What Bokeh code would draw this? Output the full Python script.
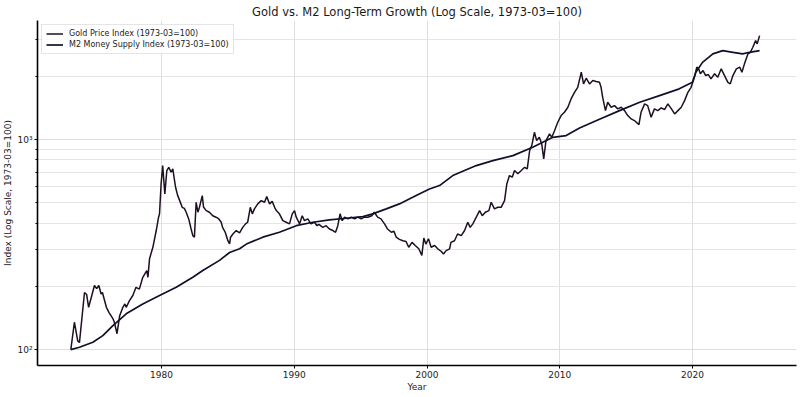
from bokeh.plotting import figure
from bokeh.models import Range1d, FixedTicker, Legend, LegendItem, ColumnDataSource
from bokeh.embed import file_html
from bokeh.resources import INLINE

# ---- data ----
gold_years = [1973.17, 1973.44, 1973.69, 1973.82, 1974.20, 1974.36, 1974.51, 1974.71, 1974.95, 1975.12,
              1975.28, 1975.45, 1975.55, 1975.85, 1976.05, 1976.35, 1976.45, 1976.65, 1976.85, 1977.09,
              1977.24, 1977.34, 1977.59, 1977.84, 1978.08, 1978.33, 1978.59, 1978.89, 1978.98, 1979.10,
              1979.35, 1979.60, 1979.78, 1979.85, 1979.97, 1980.09, 1980.25, 1980.40, 1980.55, 1980.72,
              1980.85, 1981.06, 1981.22, 1981.32, 1981.56, 1981.72, 1981.86, 1982.05, 1982.23, 1982.36,
              1982.48, 1982.61, 1982.74, 1982.86, 1983.07, 1983.17, 1983.37, 1983.61, 1983.86, 1984.10,
              1984.30, 1984.50, 1984.60, 1984.80, 1985.00, 1985.13, 1985.20, 1985.38, 1985.63, 1985.88,
              1986.12, 1986.33, 1986.49, 1986.69, 1986.84, 1987.00, 1987.25, 1987.51, 1987.76, 1987.93,
              1988.14, 1988.34, 1988.52, 1988.65, 1988.88, 1989.14, 1989.39, 1989.64, 1989.85, 1990.02,
              1990.15, 1990.40, 1990.60, 1990.77, 1991.02, 1991.26, 1991.53, 1991.71, 1991.86, 1992.15,
              1992.40, 1992.65, 1992.91, 1993.11, 1993.28, 1993.45, 1993.61, 1993.79, 1994.04, 1994.29,
              1994.54, 1994.79, 1995.04, 1995.29, 1995.54, 1995.84, 1996.03, 1996.28, 1996.53, 1996.80,
              1997.03, 1997.31, 1997.51, 1997.68, 1997.92, 1998.18, 1998.42, 1998.62, 1998.87, 1999.11,
              1999.38, 1999.61, 1999.76, 1999.91, 2000.11, 2000.31, 2000.57, 2000.81, 2001.06, 2001.24,
              2001.44, 2001.70, 2001.80, 2002.07, 2002.30, 2002.58, 2002.83, 2003.07, 2003.25, 2003.45,
              2003.71, 2003.96, 2004.16, 2004.39, 2004.66, 2004.83, 2005.08, 2005.33, 2005.58, 2005.84,
              2006.01, 2006.21, 2006.42, 2006.59, 2006.84, 2007.10, 2007.35, 2007.55, 2007.73, 2007.89,
              2008.09, 2008.26, 2008.46, 2008.64, 2008.79, 2008.96, 2009.23, 2009.40, 2009.61, 2009.85,
              2010.10, 2010.35, 2010.61, 2010.85, 2011.11, 2011.35, 2011.62, 2011.79, 2011.99, 2012.24,
              2012.49, 2012.74, 2012.99, 2013.11, 2013.23, 2013.44, 2013.61, 2013.87, 2014.12, 2014.37,
              2014.63, 2014.88, 2015.12, 2015.38, 2015.62, 2015.96, 2016.12, 2016.39, 2016.62, 2016.88,
              2017.13, 2017.38, 2017.64, 2017.89, 2018.14, 2018.41, 2018.65, 2018.90, 2019.15, 2019.40,
              2019.65, 2019.89, 2020.14, 2020.32, 2020.46, 2020.59, 2020.79, 2020.99, 2021.19, 2021.39,
              2021.66, 2021.90, 2022.16, 2022.41, 2022.66, 2022.84, 2023.04, 2023.30, 2023.55, 2023.72,
              2023.91, 2024.17, 2024.36, 2024.54, 2024.75, 2024.87, 2025.05]
gold_index = [100, 135, 110, 108, 187, 183, 159, 177, 202, 195,
              202, 184, 187, 159, 150, 140, 135, 119, 145, 159,
              165, 159, 171, 181, 198, 194, 221, 238, 221, 271,
              307, 368, 427, 443, 615, 752, 551, 711, 738, 699,
              725, 593, 541, 522, 476, 470, 451, 419, 375, 349,
              343, 503, 451, 476, 541, 476, 459, 451, 434, 427,
              420, 404, 382, 362, 330, 319, 343, 355, 369, 360,
              382, 397, 404, 476, 443, 468, 494, 512, 503, 535,
              494, 508, 476, 459, 443, 411, 404, 397, 443, 459,
              427, 397, 434, 411, 419, 397, 404, 389, 395, 382,
              389, 375, 369, 362, 389, 443, 411, 427, 419, 427,
              419, 427, 419, 427, 427, 434, 451, 427, 419, 397,
              375, 362, 366, 343, 335, 330, 327, 307, 324, 313,
              302, 281, 340, 318, 337, 307, 313, 302, 294, 285,
              296, 302, 324, 330, 355, 349, 369, 404, 382, 397,
              427, 459, 434, 451, 459, 503, 468, 476, 476, 512,
              615, 674, 662, 712, 687, 712, 738, 725, 887, 936,
              1083, 989, 1025, 954, 809, 989, 1064, 1025, 1104, 1209,
              1301, 1349, 1425, 1562, 1679, 1774, 2092, 1842, 1960, 1840,
              1911, 1890, 1874, 1774, 1590, 1374, 1505, 1425, 1451, 1400,
              1425, 1374, 1301, 1254, 1232, 1179, 1349, 1479, 1451, 1277,
              1400, 1374, 1415, 1390, 1479, 1400, 1325, 1374, 1425, 1533,
              1679, 1774, 1979, 2212, 2172, 2057, 2131, 2018, 2040, 1945,
              2057, 1979, 2172, 2018, 1874, 1842, 2018, 2172, 2212, 2092,
              2294, 2559, 2604, 2751, 2960, 2857, 3126]

m2_years = [1973.17, 1973.82, 1974.83, 1975.58, 1976.34, 1977.34, 1978.59, 1979.85, 1981.11, 1982.36,
            1983.11, 1984.37, 1985.13, 1985.88, 1986.39, 1987.63, 1988.88, 1990.15, 1991.40, 1992.65,
            1993.91, 1995.17, 1995.91, 1996.93, 1997.92, 1998.92, 1999.41, 2000.19, 2000.94, 2001.94,
            2003.71, 2004.96, 2006.47, 2007.96, 2009.48, 2010.48, 2011.49, 2012.99, 2014.50, 2016.02,
            2017.51, 2019.00, 2019.99, 2020.25, 2020.75, 2021.53, 2022.28, 2023.04, 2023.78, 2024.28,
            2025.05]
m2_index = [100, 102.6, 108.4, 116.6, 130, 148, 165, 181, 198, 221,
            238, 266, 290, 302, 318, 343, 362, 389, 404, 415,
            422, 430, 443, 468, 494, 531, 551, 582, 604, 674,
            752, 794, 839, 919, 1025, 1045, 1135, 1250, 1374, 1505,
            1620, 1744, 1874, 2092, 2332, 2559, 2651, 2604, 2559, 2604,
            2651]

x_ticks = [1980, 1990, 2000, 2010, 2020]
y_major = [100, 1000]
y_minor = [200, 300, 400, 500, 600, 700, 800, 900, 2000, 3000]
y_labels = {100: "10²", 1000: "10³"}

title_text = "Gold vs. M2 Long-Term Growth (Log Scale, 1973-03=100)"
gold_label = "Gold Price Index (1973-03=100)"
m2_label = "M2 Money Supply Index (1973-03=100)"

FONT = "DejaVu Sans"

p = figure(frame_width=759, frame_height=345, y_axis_type="log",
           x_range=Range1d(1970.66, 2027.83), y_range=Range1d(84, 3690),
           output_backend="svg", toolbar_location=None,
           min_border_left=30, min_border_right=3, min_border_top=0, min_border_bottom=0,
           title=title_text)
p.outline_line_color = None
p.background_fill_color = "white"

p.title.align = "center"
p.title.text_font = FONT
p.title.text_font_size = "11.5px"
p.title.text_font_style = "normal"
p.title.text_color = "#1a1a1a"
p.title.standoff = 4

# axes
p.xaxis.ticker = FixedTicker(ticks=x_ticks)
p.yaxis.ticker = FixedTicker(ticks=y_major, minor_ticks=y_minor)
p.yaxis.major_label_overrides = y_labels
for ax in (p.xaxis[0], p.yaxis[0]):
    ax.axis_line_color = "black"
    ax.axis_line_width = 1.6
    ax.major_tick_line_color = "black"
    ax.minor_tick_line_color = "black"
    ax.major_tick_out = 3
    ax.major_tick_in = 0
    ax.minor_tick_out = 2
    ax.minor_tick_in = 0
    ax.major_label_text_font = FONT
    ax.major_label_text_font_size = "9px"
    ax.major_label_text_color = "#222222"
    ax.axis_label_text_font = FONT
    ax.axis_label_text_font_size = "9px"
    ax.axis_label_text_font_style = "normal"
    ax.axis_label_text_color = "#222222"
    ax.major_label_standoff = 2
    ax.axis_label_standoff = 1
p.xaxis.minor_tick_line_color = None
p.xaxis.axis_label = "Year"
p.yaxis.axis_label = "Index (Log Scale, 1973-03=100)"

# grid
p.xgrid.grid_line_color = "#dedede"
p.xgrid.grid_line_width = 1
p.ygrid.grid_line_color = "#dedede"
p.ygrid.minor_grid_line_color = "#e4e4e4"
p.ygrid.grid_line_width = 1

gold_src = ColumnDataSource(dict(x=gold_years, y=gold_index))
m2_src = ColumnDataSource(dict(x=m2_years, y=m2_index))
r_gold = p.line("x", "y", source=gold_src, line_color="#1e0f22", line_width=1.5)
r_m2 = p.line("x", "y", source=m2_src, line_color="#10102c", line_width=1.7)

legend = Legend(items=[LegendItem(label=gold_label, renderers=[r_gold]),
                       LegendItem(label=m2_label, renderers=[r_m2])],
                location="top_left")
legend.label_text_font = FONT
legend.label_text_font_size = "8px"
legend.label_text_color = "#222222"
legend.label_height = 9
legend.glyph_height = 9
legend.glyph_width = 17
legend.label_standoff = 6
legend.spacing = 2
legend.padding = 4
legend.margin = 4
legend.border_line_color = "#cccccc"
legend.border_line_width = 1
legend.background_fill_alpha = 0.85
p.add_layout(legend)

open("out.html", "w").write(file_html(p, INLINE))
